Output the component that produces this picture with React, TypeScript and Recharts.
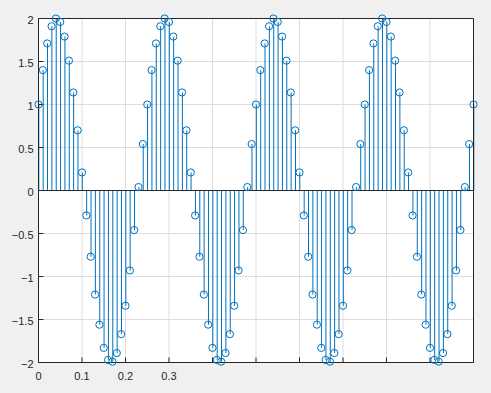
import React from 'react';
import { ComposedChart, Bar, Scatter, XAxis, YAxis, CartesianGrid, ReferenceLine } from 'recharts';

const timeSteps = [
  0, 0.01, 0.02, 0.03, 0.04, 0.05, 0.06, 0.07, 0.08, 0.09,
  0.1, 0.11, 0.12, 0.13, 0.14, 0.15, 0.16, 0.17, 0.18, 0.19,
  0.2, 0.21, 0.22, 0.23, 0.24, 0.25, 0.26, 0.27, 0.28, 0.29,
  0.3, 0.31, 0.32, 0.33, 0.34, 0.35, 0.36, 0.37, 0.38, 0.39,
  0.4, 0.41, 0.42, 0.43, 0.44, 0.45, 0.46, 0.47, 0.48, 0.49,
  0.5, 0.51, 0.52, 0.53, 0.54, 0.55, 0.56, 0.57, 0.58, 0.59,
  0.6, 0.61, 0.62, 0.63, 0.64, 0.65, 0.66, 0.67, 0.68, 0.69,
  0.7, 0.71, 0.72, 0.73, 0.74, 0.75, 0.76, 0.77, 0.78, 0.79,
  0.8, 0.81, 0.82, 0.83, 0.84, 0.85, 0.86, 0.87, 0.88, 0.89,
  0.9, 0.91, 0.92, 0.93, 0.94, 0.95, 0.96, 0.97, 0.98, 0.99,
  1,
];

const signal = [
  1.0, 1.4, 1.71, 1.91, 2.0, 1.96, 1.79, 1.51, 1.14, 0.7,
  0.21, -0.29, -0.77, -1.21, -1.56, -1.83, -1.97, -1.99, -1.89, -1.67,
  -1.34, -0.93, -0.46, 0.04, 0.54,
  1.0, 1.4, 1.71, 1.91, 2.0, 1.96, 1.79, 1.51, 1.14, 0.7,
  0.21, -0.29, -0.77, -1.21, -1.56, -1.83, -1.97, -1.99, -1.89, -1.67,
  -1.34, -0.93, -0.46, 0.04, 0.54,
  1.0, 1.4, 1.71, 1.91, 2.0, 1.96, 1.79, 1.51, 1.14, 0.7,
  0.21, -0.29, -0.77, -1.21, -1.56, -1.83, -1.97, -1.99, -1.89, -1.67,
  -1.34, -0.93, -0.46, 0.04, 0.54,
  1.0, 1.4, 1.71, 1.91, 2.0, 1.96, 1.79, 1.51, 1.14, 0.7,
  0.21, -0.29, -0.77, -1.21, -1.56, -1.83, -1.97, -1.99, -1.89, -1.67,
  -1.34, -0.93, -0.46, 0.04, 0.54,
  1.0,
];

const xTicks = [0, 0.1, 0.2, 0.3, 0.4, 0.5, 0.6, 0.7, 0.8, 0.9, 1];
const xTickLabels = ['0', '0.1', '0.2', '0.3', '', '', '', '', '', '', ''];
const yTicks = [-2, -1.5, -1, -0.5, 0, 0.5, 1, 1.5, 2];
const yTickLabels = ['\u22122', '\u22121.5', '\u22121', '\u22120.5', '0', '0.5', '1', '1.5', '2'];

const data = timeSteps.map((t, i) => ({ t, v: signal[i] }));

const STEM = '#0072BD';
const AXIS = '#262626';
const FONT = '"Liberation Sans", Arial, Helvetica, sans-serif';

const Stem = (p: any) => {
  const cx = p.x + p.width / 2;
  return <line x1={cx} x2={cx} y1={p.y} y2={p.y + p.height} stroke={STEM} strokeWidth={1} />;
};

const Marker = (p: any) => (
  <circle cx={p.cx} cy={p.cy} r={3.6} fill="none" stroke={STEM} strokeWidth={1} />
);

const xFmt = (v: number) => {
  const i = xTicks.indexOf(v);
  return i >= 0 ? xTickLabels[i] : '';
};
const yFmt = (v: number) => {
  const i = yTicks.indexOf(v);
  return i >= 0 ? yTickLabels[i] : '';
};

export default function App() {
  return (
    <div style={{ position: 'absolute', left: 0, top: 0, width: 491, height: 393, background: '#f0f0f0' }}>
      <ComposedChart
        width={491}
        height={393}
        data={data}
        margin={{ top: 8.5, right: 7.5, bottom: 0.5, left: 0.5 }}
        style={{ fontFamily: FONT }}
      >
        <CartesianGrid fill="#ffffff" stroke="#dedede" strokeWidth={1} />
        <XAxis
          dataKey="t"
          type="number"
          domain={[0, 1]}
          ticks={xTicks}
          height={30}
          tickSize={-5}
          tickMargin={15}
          tickFormatter={xFmt}
          axisLine={{ stroke: AXIS }}
          tickLine={{ stroke: AXIS }}
          tick={{ fill: AXIS, fontSize: 11, fontFamily: FONT }}
          interval={0}
        />
        <XAxis
          xAxisId="top"
          orientation="top"
          type="number"
          domain={[0, 1]}
          ticks={xTicks}
          height={10}
          tickSize={-5}
          tick={false}
          axisLine={{ stroke: AXIS }}
          tickLine={{ stroke: AXIS }}
          interval={0}
        />
        <YAxis
          type="number"
          domain={[-2, 2]}
          ticks={yTicks}
          width={38}
          tickSize={-5}
          tickMargin={10}
          tickFormatter={yFmt}
          axisLine={{ stroke: AXIS }}
          tickLine={{ stroke: AXIS }}
          tick={{ fill: AXIS, fontSize: 11, fontFamily: FONT, dy: 2 }}
          interval={0}
        />
        <YAxis
          yAxisId="right"
          orientation="right"
          type="number"
          domain={[-2, 2]}
          ticks={yTicks}
          width={10}
          tickSize={-5}
          tick={false}
          axisLine={{ stroke: AXIS }}
          tickLine={{ stroke: AXIS }}
          interval={0}
        />
        <Bar dataKey="v" barSize={1} shape={Stem} isAnimationActive={false} />
        <ReferenceLine y={0} stroke={AXIS} strokeWidth={1} />
        <Scatter dataKey="v" shape={Marker} isAnimationActive={false} />
      </ComposedChart>
    </div>
  );
}
